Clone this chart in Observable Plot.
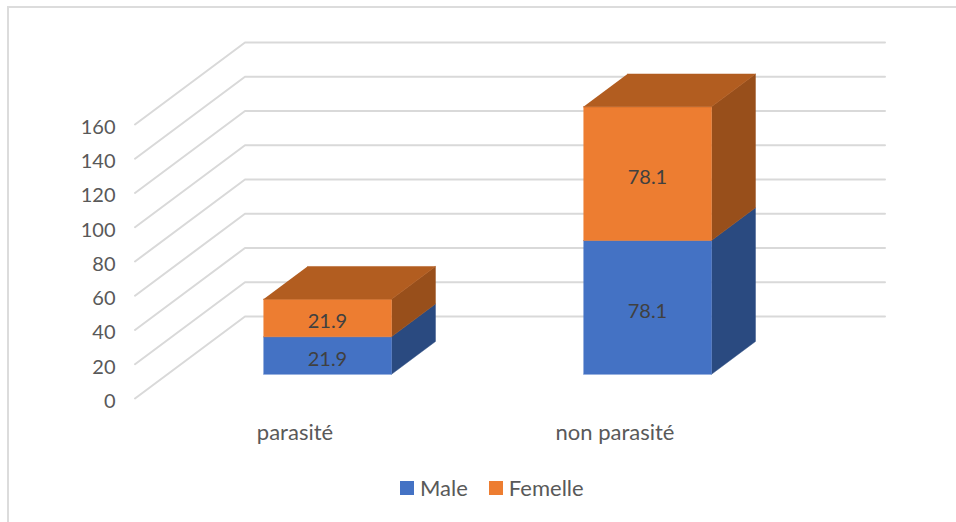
<!DOCTYPE html>
<html>
<head>
<meta charset="utf-8">
<script src="https://cdn.jsdelivr.net/npm/d3@7"></script>
<script src="https://cdn.jsdelivr.net/npm/@observablehq/plot@0.6"></script>
<style>
  html, body { margin: 0; padding: 0; background: #fff; overflow: hidden; }
  #page { position: relative; width: 956px; height: 522px; font-family: Lato, sans-serif; color: #595959; }
  #frame { position: absolute; left: 7px; top: 6px; right: 0; bottom: 0; border-left: 2px solid #dcdcdc; border-top: 2px solid #dcdcdc; }
  #chart { position: absolute; left: 0; top: 0; }
  #legend { position: absolute; left: 400px; top: 473px; height: 28px; display: flex; align-items: center; font-size: 22px; white-space: nowrap; }
  #legend i { display: inline-block; width: 14px; height: 14px; margin-right: 6px; position: relative; top: 1px; }
  #legend span { display: inline-flex; align-items: center; margin-right: 21px; }
</style>
</head>
<body>
<div id="page"><div id="frame"></div><div id="chart"></div><div id="legend"></div></div>
<script>
const categories = ["parasité", "non parasité"];
const seriesNames = ["Male", "Femelle"];
const male = [21.9, 78.1];
const femelle = [21.9, 78.1];
const yTicks = [0, 20, 40, 60, 80, 100, 120, 140, 160];
const frontColors = ["#4472C4", "#ED7D31"];
const sideColors = ["#2A4A80", "#984F1B"];
const topColor = "#B25D20";

// Oblique projection: one unit of depth shifts this far in x and y data units.
const depthX = 0.34375, depthY = 47.9;
const barFront = 0.295, barBack = 0.695, barInset = 0.3;
const project = (u, v, d) => ({x: u + d * depthX, y: v + d * depthY});

const gridRows = yTicks.flatMap((v) => [
  {...project(0, v, 0), z: v},
  {...project(0, v, 1), z: v},
  {...project(2, v, 1), z: v}
]);

const faces = [];
const labels = [];
categories.forEach((c, i) => {
  const l = i + barInset, r = i + 1 - barInset;
  let base = 0;
  [male[i], femelle[i]].forEach((val, s) => {
    const t = base + val;
    const poly = (name, color, pts) => pts.forEach((p) => faces.push({...project(...p), z: `${i}-${s}-${name}`, color}));
    poly("side", sideColors[s], [[r, base, barFront], [r, base, barBack], [r, t, barBack], [r, t, barFront]]);
    poly("front", frontColors[s], [[l, base, barFront], [r, base, barFront], [r, t, barFront], [l, t, barFront]]);
    if (s === 1) poly("top", topColor, [[l, t, barFront], [r, t, barFront], [r, t, barBack], [l, t, barBack]]);
    labels.push({...project(i + 0.5, base + val / 2, barFront), text: val.toFixed(1)});
    base = t;
  });
});

const fontFamily = "Lato, sans-serif";
const plot = Plot.plot({
  width: 956,
  height: 470,
  marginLeft: 134.5,
  marginRight: 181.5,
  marginTop: 0,
  marginBottom: 72,
  style: {background: "transparent", fontFamily, fontSize: "20px", color: "#595959"},
  x: {domain: [0, 2], range: [134.5, 774.5], axis: null},
  y: {domain: [0, 160], range: [398, 124], axis: null},
  color: {type: "identity"},
  marks: [
    Plot.line(gridRows, {x: "x", y: "y", z: "z", stroke: "#d9d9d9", strokeWidth: 2, curve: "linear"}),
    Plot.line(faces, {x: "x", y: "y", z: "z", fill: "color", stroke: "color", strokeWidth: 0.5, curve: "linear"}),
    Plot.text(labels, {x: "x", y: "y", dy: 4, text: "text", fill: "#404040", fontSize: 20}),
    Plot.axisY(yTicks, {tickSize: 0, tickPadding: 19.5, dy: 3, fontSize: 20, fill: "#595959", anchor: "left", label: null}),
    Plot.axisX([0.5, 1.5], {
      tickSize: 0, tickPadding: 26, fontSize: 22, fill: "#595959", anchor: "bottom", label: null,
      tickFormat: (t) => categories[t - 0.5]
    })
  ]
});
document.getElementById("chart").append(plot);

const legend = document.getElementById("legend");
seriesNames.forEach((n, i) => {
  const s = document.createElement("span");
  const sw = document.createElement("i");
  sw.style.background = frontColors[i];
  s.append(sw, n);
  legend.append(s);
});
</script>
</body>
</html>
